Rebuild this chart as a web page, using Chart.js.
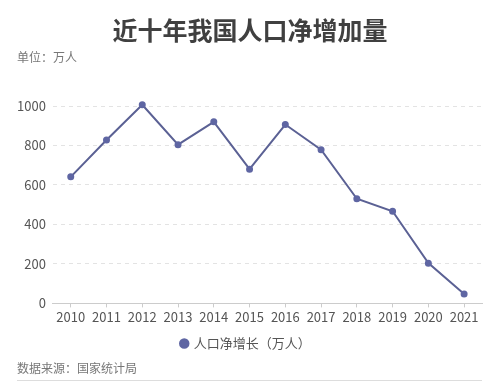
<!DOCTYPE html>
<html>
  <head>
    <meta charset="UTF-8">
    <title>近十年我国人口净增加量</title>
    <script src="https://cdn.jsdelivr.net/npm/chart.js"></script>
    <style>
      body { margin: 0; background: #fff; font-family: "Noto Sans CJK SC", "Noto Sans", sans-serif; }
      .wrap { position: relative; width: 500px; height: 392px; }
      .title { position: absolute; top: 11px; left: 0; width: 500px; text-align: center; font-size: 25px; font-weight: bold; color: #404040; }
      .unit { position: absolute; top: 48px; left: 17px; font-size: 12px; color: #777; }
      .source { position: absolute; top: 359px; left: 17px; width: 465px; font-size: 12px; color: #777; padding-bottom: 4px; border-bottom: 1px solid #ddd; }
      canvas { position: absolute; top: 0; left: 0; }
    </style>
  </head>
  <body>
    <div class="wrap">
      <canvas id="lineChart" width="500" height="392"></canvas>
      <div class="title">近十年我国人口净增加量</div>
      <div class="unit">单位：万人</div>
      <div class="source">数据来源：国家统计局</div>
    </div>

    <script>
      // years and net increase (10k people)
      const years = ['2010', '2011', '2012', '2013', '2014', '2015', '2016', '2017', '2018', '2019', '2020', '2021'];
      const netIncrease = [641, 828, 1006, 804, 920, 680, 906, 779, 530, 467, 204, 48];
      const yTicks = [0, 200, 400, 600, 800, 1000];

      const font = "'Noto Sans CJK SC', 'Noto Sans', sans-serif";

      new Chart(document.getElementById('lineChart').getContext('2d'), {
        type: 'line',
        data: {
          labels: years,
          datasets: [{
            label: '人口净增长（万人）',
            data: netIncrease,
            borderColor: '#5b6194',
            backgroundColor: '#6371bd',
            pointBackgroundColor: '#5f66a3',
            pointBorderColor: '#5f66a3',
            pointRadius: 2.5,
            borderWidth: 2,
            tension: 0,
            clip: false
          }]
        },
        options: {
          responsive: false,
          animation: false,
          layout: { padding: { top: 106, left: 10, right: 18, bottom: 32 } },
          plugins: {
            legend: {
              position: 'bottom',
              labels: {
                usePointStyle: true,
                pointStyle: 'circle',
                boxWidth: 6,
                boxHeight: 6,
                color: '#555',
                font: { family: font, size: 13 },
                padding: 10
              }
            },
            tooltip: { enabled: false }
          },
          scales: {
            x: {
              offset: true,
              grid: { display: true, drawOnChartArea: false, offset: false, tickLength: 4, color: '#ccc' },
              border: { color: '#ccc' },
              ticks: { color: '#555', font: { family: font, size: 13 }, padding: 2, maxRotation: 0 }
            },
            y: {
              min: 0,
              max: 1000,
              afterBuildTicks: axis => { axis.ticks = yTicks.map(v => ({ value: v })); },
              grid: { color: '#e3e3e3', drawTicks: false },
              border: { display: false, dash: [4, 4] },
              ticks: { color: '#555', font: { family: font, size: 13 }, padding: 7, callback: v => String(v) }
            }
          }
        }
      });
    </script>
  </body>
</html>
